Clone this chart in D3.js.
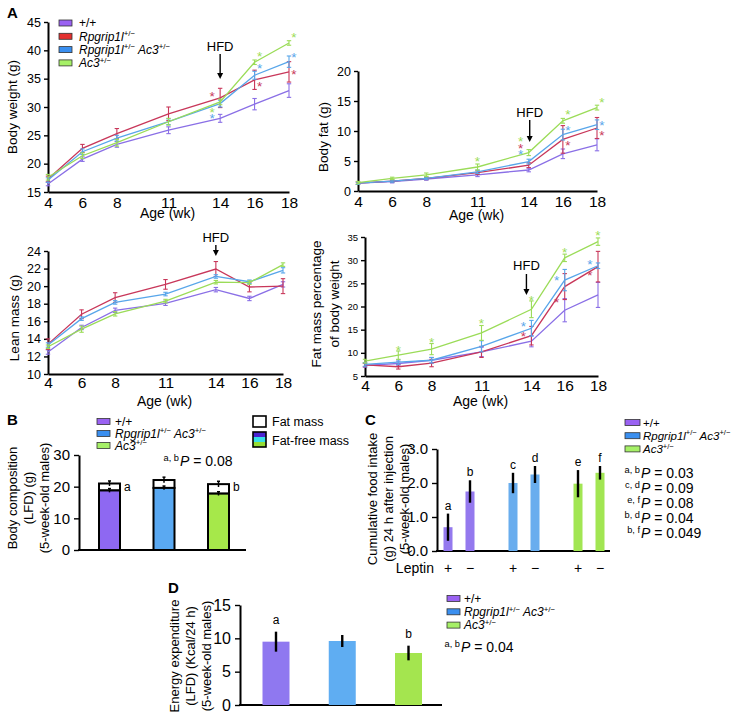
<!DOCTYPE html>
<html>
<head>
<meta charset="utf-8">
<script src="https://cdn.jsdelivr.net/npm/d3@7"></script>
<style>
    body { margin: 0; background: #fff; }
    svg { display: block; font-family: "Liberation Sans", Arial, Helvetica, sans-serif; }
</style>
</head>
<body>
<svg id="fig" width="736" height="720"></svg>
<script>
"use strict";

// ---- values ----
const weeks = [4, 6, 8, 11, 14, 16, 18];

// series rows: +/+, Rpgrip1l+/-, Rpgrip1l+/- Ac3+/-, Ac3+/-
const groupLabels = [
    [{ t: "+/+" }],
    [{ t: "Rpgrip1l", i: 1 }, { t: "+/\u2212", s: 1 }],
    [{ t: "Rpgrip1l", i: 1 }, { t: "+/\u2212", s: 1 }, { t: " Ac3", i: 1 }, { t: "+/\u2212", s: 1 }],
    [{ t: "Ac3", i: 1 }, { t: "+/\u2212", s: 1 }]
];

const bodyWeight = [
    [16.4, 20.8, 23.4, 25.9, 28.0, 30.5, 32.9],
    [17.3, 22.7, 25.3, 28.8, 31.6, 34.8, 36.2],
    [17.1, 22.1, 24.5, 27.4, 30.6, 35.6, 38.0],
    [17.6, 21.4, 23.7, 27.4, 30.9, 37.9, 41.3]
];
const bodyWeightErr = [
    [0.3, 0.4, 0.5, 0.6, 0.7, 1.0, 1.2],
    [0.5, 0.7, 0.9, 1.2, 1.7, 1.7, 1.8],
    [0.4, 0.5, 0.5, 0.5, 0.6, 0.7, 1.0],
    [0.5, 0.5, 0.6, 0.6, 0.5, 0.4, 0.4]
];
// [series, week, value, side(-1 left / 0 above / 1 right)]
const bodyWeightStars = [
    [1, 14, 32.3, -1], [3, 14, 29.5, -1], [2, 14, 28.4, -1],
    [3, 16, 39.4, 1], [2, 16, 37.2, 1], [1, 16, 34.1, 1],
    [3, 18, 42.7, 1], [2, 18, 39.2, 1], [1, 18, 36.2, 1]
];

const bodyFat = [
    [1.3, 1.55, 2.0, 2.7, 3.5, 6.2, 7.7],
    [1.3, 1.65, 2.1, 3.05, 4.3, 8.6, 10.5],
    [1.3, 1.65, 2.1, 3.2, 4.9, 9.4, 11.05],
    [1.4, 2.1, 2.7, 4.0, 6.4, 11.7, 13.9]
];
const bodyFatErr = [
    [0.2, 0.2, 0.2, 0.3, 0.3, 0.8, 1.0],
    [0.2, 0.2, 0.2, 0.3, 0.4, 2.3, 1.75],
    [0.2, 0.2, 0.2, 0.3, 0.4, 0.9, 0.8],
    [0.2, 0.2, 0.3, 0.5, 0.5, 0.4, 0.4]
];
const bodyFatStars = [
    [3, 11, 5.3, 0],
    [3, 14, 8.6, -1], [1, 14, 7.5, -1], [2, 14, 6.45, -1],
    [3, 16, 13.1, 1], [2, 16, 10.45, 1], [1, 16, 8.05, 1],
    [3, 18, 15.2, 1], [2, 18, 11.3, 1], [1, 18, 9.7, 1]
];

const leanMass = [
    [12.5, 15.3, 17.25, 18.05, 19.6, 18.6, 20.2],
    [13.4, 16.8, 18.7, 20.2, 21.95, 19.9, 20.0],
    [13.3, 16.3, 18.15, 19.1, 21.1, 20.5, 21.8],
    [13.1, 15.1, 16.85, 18.3, 20.45, 20.4, 22.45]
];
const leanMassErr = [
    [0.25, 0.25, 0.25, 0.25, 0.25, 0.25, 0.3],
    [0.6, 0.5, 0.55, 0.55, 0.85, 0.55, 0.85],
    [0.25, 0.2, 0.2, 0.2, 0.2, 0.2, 0.3],
    [0.2, 0.35, 0.25, 0.2, 0.2, 0.2, 0.2]
];

const fatPercent = [
    [7.3, 7.7, 8.4, 10.2, 12.5, 19.2, 22.5],
    [7.4, 7.0, 7.8, 10.2, 13.7, 24.3, 28.6],
    [7.5, 8.0, 8.4, 11.4, 15.3, 25.7, 28.8],
    [8.2, 9.5, 10.8, 14.3, 19.4, 30.5, 34.0]
];
const fatPercentErr = [
    [0.4, 0.5, 0.6, 1.0, 1.2, 2.5, 2.7],
    [0.4, 0.5, 0.8, 1.2, 2.0, 2.8, 3.3],
    [0.4, 0.5, 0.6, 1.2, 1.7, 2.3, 0.6],
    [0.4, 0.9, 1.2, 1.6, 1.8, 0.8, 0.8]
];
const fatPercentStars = [
    [3, 6, 11.15, 0], [3, 8, 12.7, 0], [3, 11, 16.8, 0],
    [3, 14, 21.75, 0], [2, 14, 16.2, -1], [1, 14, 14.0, -1],
    [3, 16, 32.2, 0], [2, 16, 26.1, -1], [1, 16, 21.5, -1],
    [3, 18, 35.8, 0], [2, 18, 29.5, -1], [1, 18, 27.2, -1]
];

// panel B: body composition
const compGroups = [0, 2, 3];
const compTotal = [21.0, 22.1, 20.8];
const compTotalErr = [0.8, 0.9, 0.9];
const compFatFree = [18.8, 19.6, 17.8];
const compFatFreeErr = [0.6, 0.6, 0.6];
const compLetters = ["a", "", "b"];

// panel C: food intake after leptin
const leptinTreat = ["+", "\u2212"];
const foodIntake = [[0.7, 1.75], [2.0, 2.25], [1.98, 2.3]];
const foodIntakeErr = [[0.4, 0.33], [0.3, 0.25], [0.4, 0.2]];
const foodLetters = [["a", "b"], ["c", "d"], ["e", "f"]];
const foodPValues = [["a, b", "0.03"], ["c, d", "0.09"], ["e, f", "0.08"], ["b, d", "0.04"], ["b, f", "0.049"]];

// panel D: energy expenditure
const energy = [9.5, 9.6, 7.8];
const energyErr = [1.5, 0.9, 1.1];
const energyLetters = ["a", "", "b"];

(function () {
    "use strict";

    const svg = d3.select("#fig");
    svg.append("rect").attr("width", 736).attr("height", 720).attr("fill", "#fff");

    const lineColors = ["#8a6fe6", "#c8375a", "#58a6ea", "#9bdc58"];
    const swatchColors = ["#9a62f2", "#e3302f", "#3a8ff0", "#a6f067"];
    const barColorsB = ["#8e68f2", "#5aa9f2", "#a6e84a"];
    const barColorsC = ["#9479ee", "#69adee", "#a2e653"];
    const barColorsD = ["#8f78f0", "#5fadf2", "#a4e54f"];

    function addRich(textSel, parts, size) {
        let cur = 0;
        parts.forEach(function (p) {
            const ts = textSel.append("tspan").text(p.t);
            if (p.i) ts.attr("font-style", "italic");
            const target = p.s ? -size * 0.38 : 0;
            if (p.s) ts.attr("font-size", size * 0.66);
            if (target !== cur) ts.attr("dy", target - cur);
            cur = target;
        });
    }

    function legend(x0, y0, step, idx, size, sw, sh, gap) {
        idx.forEach(function (gi, k) {
            const cy = y0 + k * step;
            svg.append("rect")
                .attr("x", x0).attr("y", cy - sh / 2)
                .attr("width", sw).attr("height", sh)
                .attr("fill", swatchColors[gi])
                .attr("stroke", "#333").attr("stroke-width", 0.8);
            const t = svg.append("text")
                .attr("x", x0 + sw + gap).attr("y", cy + size * 0.36)
                .attr("font-size", size);
            addRich(t, groupLabels[gi], size);
        });
    }

    function yLabel(lines, xs, cy, size) {
        lines.forEach(function (line, k) {
            svg.append("text")
                .attr("transform", "translate(" + xs[k] + "," + cy + ") rotate(-90)")
                .attr("text-anchor", "middle")
                .attr("font-size", size)
                .text(line);
        });
    }

    function pValue(xP, yBase, sup, val, size) {
        svg.append("text").attr("x", xP - 1).attr("y", yBase - size * 0.38)
            .attr("text-anchor", "end").attr("font-size", size * 0.66).text(sup);
        const t = svg.append("text").attr("x", xP).attr("y", yBase).attr("font-size", size);
        t.append("tspan").attr("font-style", "italic").text("P");
        t.append("tspan").text(" = " + val);
    }

    function styleAxis(ax, fontSize) {
        ax.select(".domain").attr("stroke", "#000").attr("stroke-width", 2);
        ax.selectAll(".tick line").attr("stroke", "#000").attr("stroke-width", 1.4);
        ax.selectAll(".tick text").attr("fill", "#000").attr("font-size", fontSize)
            .attr("font-family", "Liberation Sans, Arial, sans-serif");
    }

    function linePanel(cfg) {
        const g = svg.append("g");
        const x = d3.scaleLinear().domain([4, 18]).range(cfg.xRange);
        const y = d3.scaleLinear().domain(cfg.yDomain).range(cfg.yRange);

        const ya = g.append("g")
            .attr("transform", "translate(" + cfg.xRange[0] + ",0)")
            .call(d3.axisLeft(y).tickValues(cfg.yTicks).tickSize(4).tickSizeOuter(0).tickPadding(3));
        styleAxis(ya, cfg.yTickSize);

        const xa = g.append("g")
            .attr("transform", "translate(0," + cfg.yRange[0] + ")")
            .call(d3.axisBottom(x).tickValues(weeks).tickSize(0).tickPadding(cfg.xPad));
        styleAxis(xa, 15.5);

        g.append("text")
            .attr("x", (cfg.xRange[0] + cfg.xRange[1]) / 2 - 1)
            .attr("y", cfg.ageY)
            .attr("text-anchor", "middle")
            .attr("font-size", 14)
            .text("Age (wk)");

        const line = d3.line()
            .x(function (d, i) { return x(weeks[i]); })
            .y(function (d) { return y(d); });

        cfg.data.forEach(function (series, si) {
            const col = lineColors[si];
            g.append("path")
                .attr("d", line(series))
                .attr("fill", "none")
                .attr("stroke", col)
                .attr("stroke-width", 1.3);

            series.forEach(function (v, i) {
                const e = cfg.err[si][i];
                const cx = x(weeks[i]);
                const y0 = y(v - e), y1 = y(v + e);
                g.append("line").attr("x1", cx).attr("x2", cx).attr("y1", y0).attr("y2", y1)
                    .attr("stroke", col).attr("stroke-width", 1.1);
                [y0, y1].forEach(function (yy) {
                    g.append("line").attr("x1", cx - 2.2).attr("x2", cx + 2.2).attr("y1", yy).attr("y2", yy)
                        .attr("stroke", col).attr("stroke-width", 1.1);
                });
            });
        });

        // significance asterisks
        (cfg.stars || []).forEach(function (s) {
            const dx = s[3] < 0 ? -8 : (s[3] > 0 ? 5 : 0);
            g.append("text")
                .attr("x", x(s[1]) + dx)
                .attr("y", y(s[2]) + 7)
                .attr("text-anchor", "middle")
                .attr("font-size", 13.5)
                .attr("fill", lineColors[s[0]])
                .text("*");
        });

        const hx = x(14) + cfg.hfd[3];
        g.append("text")
            .attr("x", hx).attr("y", cfg.hfd[0])
            .attr("text-anchor", "middle").attr("font-size", 13)
            .text("HFD");
        g.append("line")
            .attr("x1", hx).attr("x2", hx)
            .attr("y1", cfg.hfd[1]).attr("y2", cfg.hfd[2] - 5)
            .attr("stroke", "#000").attr("stroke-width", 1.4);
        g.append("path")
            .attr("d", "M" + (hx - 3) + "," + (cfg.hfd[2] - 6) + "L" + (hx + 3) + "," + (cfg.hfd[2] - 6) + "L" + hx + "," + cfg.hfd[2] + "Z")
            .attr("fill", "#000");

        yLabel(cfg.label, cfg.labelX, cfg.labelY, 13.5);
    }

    // ---- panel A ----
    svg.append("text").attr("x", 7).attr("y", 18).attr("font-size", 15).attr("font-weight", "bold").text("A");
    legend(59, 23, 13.3, [0, 1, 2, 3], 12, 13, 6, 7);

    linePanel({
        data: bodyWeight, err: bodyWeightErr, stars: bodyWeightStars,
        xRange: [48, 289], yDomain: [15, 45], yRange: [192, 22],
        yTicks: d3.range(15, 46, 5), yTickSize: 12.5, xPad: 5, ageY: 218,
        hfd: [51, 54, 79, 0],
        label: ["Body weight (g)"], labelX: [17], labelY: 107
    });

    linePanel({
        data: bodyFat, err: bodyFatErr, stars: bodyFatStars,
        xRange: [358, 597], yDomain: [0, 20], yRange: [191, 71],
        yTicks: d3.range(0, 21, 5), yTickSize: 12.5, xPad: 5, ageY: 220,
        hfd: [117, 120, 142, 1],
        label: ["Body fat (g)"], labelX: [328], labelY: 137
    });

    linePanel({
        data: leanMass, err: leanMassErr,
        xRange: [48, 283], yDomain: [10, 24], yRange: [374, 251],
        yTicks: d3.range(10, 25, 2), yTickSize: 12.5, xPad: 3, ageY: 406,
        hfd: [242, 245, 256, 0],
        label: ["Lean mass (g)"], labelX: [19], labelY: 318
    });

    linePanel({
        data: fatPercent, err: fatPercentErr, stars: fatPercentStars,
        xRange: [365, 598], yDomain: [5, 35], yRange: [376, 237],
        yTicks: d3.range(5, 36, 5), yTickSize: 9.5, xPad: 4, ageY: 406,
        hfd: [270, 274, 295, -5],
        label: ["Fat mass percentage", "of body weight"], labelX: [321, 339], labelY: 304
    });

    // ---- panel B ----
    svg.append("text").attr("x", 7).attr("y", 425).attr("font-size", 15).attr("font-weight", "bold").text("B");
    legend(97, 421.5, 12, compGroups, 12, 13, 6, 5);

    svg.append("rect").attr("x", 253).attr("y", 416).attr("width", 13).attr("height", 11)
        .attr("fill", "#fff").attr("stroke", "#000").attr("stroke-width", 1.6);
    svg.append("text").attr("x", 272).attr("y", 426).attr("font-size", 12.5).text("Fat mass");
    ["#4a24d0", "#36dfe8", "#96dd34"].forEach(function (c, k) {
        svg.append("rect").attr("x", 253).attr("y", 432 + k * 5).attr("width", 13).attr("height", 5).attr("fill", c);
    });
    svg.append("rect").attr("x", 253).attr("y", 432).attr("width", 13).attr("height", 15)
        .attr("fill", "none").attr("stroke", "#000").attr("stroke-width", 1.6);
    svg.append("text").attr("x", 272).attr("y", 445).attr("font-size", 12.5).text("Fat-free mass");

    (function () {
        const g = svg.append("g");
        const x = d3.scalePoint().domain(d3.range(compGroups.length)).range([109.5, 218.5]);
        const y = d3.scaleLinear().domain([0, 30]).range([550, 455]);
        const bw = 21;

        const ya = g.append("g").attr("transform", "translate(79,0)")
            .call(d3.axisLeft(y).tickValues([0, 10, 20, 30]).tickSize(5).tickSizeOuter(0).tickPadding(4));
        styleAxis(ya, 15);
        g.append("line").attr("x1", 78).attr("x2", 246).attr("y1", y(0)).attr("y2", y(0))
            .attr("stroke", "#000").attr("stroke-width", 2);

        compGroups.forEach(function (gi, k) {
            const cx = x(k);
            g.append("rect").attr("x", cx - bw / 2).attr("y", y(compTotal[k]))
                .attr("width", bw).attr("height", y(compFatFree[k]) - y(compTotal[k]))
                .attr("fill", "#fff").attr("stroke", "#000").attr("stroke-width", 2);
            g.append("rect").attr("x", cx - bw / 2).attr("y", y(compFatFree[k]))
                .attr("width", bw).attr("height", y(0) - y(compFatFree[k]))
                .attr("fill", barColorsB[k]).attr("stroke", "#000").attr("stroke-width", 2);
            [[compTotal[k], compTotalErr[k]], [compFatFree[k], compFatFreeErr[k]]].forEach(function (p) {
                const y0 = y(p[0] - p[1]), y1 = y(p[0] + p[1]);
                g.append("line").attr("x1", cx).attr("x2", cx).attr("y1", y0).attr("y2", y1)
                    .attr("stroke", "#000").attr("stroke-width", 1.5);
                g.append("line").attr("x1", cx - 1.5).attr("x2", cx + 1.5).attr("y1", y1).attr("y2", y1)
                    .attr("stroke", "#000").attr("stroke-width", 1.5);
            });
            if (compLetters[k]) {
                g.append("text").attr("x", cx + bw / 2 + 4).attr("y", y(compTotal[k]) + 7)
                    .attr("font-size", 12).text(compLetters[k]);
            }
        });
        pValue(180, 466, "a, b", "0.08", 14);

        yLabel(["Body composition", "(LFD) (g)", "(5-week-old males)"], [17, 33, 49], 498, 13);
    }());

    // ---- panel C ----
    svg.append("text").attr("x", 365).attr("y", 425).attr("font-size", 15).attr("font-weight", "bold").text("C");
    legend(625, 422.5, 13.2, compGroups, 11.5, 15, 6, 3);
    foodPValues.forEach(function (p, k) {
        pValue(641, 478 + k * 15, p[0], p[1], 14);
    });

    (function () {
        const g = svg.append("g");
        const x = d3.scalePoint().domain(d3.range(foodIntake.length)).range([459, 589]);
        const sub = d3.scalePoint().domain(leptinTreat).range([-11, 11]);
        const y = d3.scaleLinear().domain([0, 3]).range([551, 449]);
        const bw = 9;

        const ya = g.append("g").attr("transform", "translate(437,0)")
            .call(d3.axisLeft(y).tickValues([0, 1, 2, 3]).tickSize(5).tickSizeOuter(0).tickPadding(4));
        styleAxis(ya, 15);
        g.append("line").attr("x1", 436).attr("x2", 610).attr("y1", y(0)).attr("y2", y(0))
            .attr("stroke", "#000").attr("stroke-width", 2);

        foodIntake.forEach(function (pair, k) {
            pair.forEach(function (v, j) {
                const cx = x(k) + sub(leptinTreat[j]);
                const e = foodIntakeErr[k][j];
                g.append("rect").attr("x", cx - bw / 2).attr("y", y(v))
                    .attr("width", bw).attr("height", y(0) - y(v))
                    .attr("fill", barColorsC[k]);
                g.append("line").attr("x1", cx).attr("x2", cx).attr("y1", y(v - e)).attr("y2", y(v + e))
                    .attr("stroke", "#000").attr("stroke-width", 2.4);
                g.append("text").attr("x", cx).attr("y", y(v + e) - 4)
                    .attr("text-anchor", "middle").attr("font-size", 12).text(foodLetters[k][j]);
                g.append("text").attr("x", cx).attr("y", 573)
                    .attr("text-anchor", "middle").attr("font-size", 14).text(leptinTreat[j]);
            });
        });
        g.append("text").attr("x", 434).attr("y", 573).attr("text-anchor", "end")
            .attr("font-size", 14).text("Leptin");

        yLabel(["Cumulative food intake", "(g) 24 h after injection", "(5-week-old males)"], [377, 393, 409], 499, 13);
    }());

    // ---- panel D ----
    svg.append("text").attr("x", 168).attr("y", 593).attr("font-size", 15).attr("font-weight", "bold").text("D");
    legend(447, 598.5, 13.3, compGroups, 12, 13, 6, 4);
    pValue(461, 652, "a, b", "0.04", 14);

    (function () {
        const g = svg.append("g");
        const x = d3.scalePoint().domain(d3.range(energy.length)).range([276, 408.5]);
        const y = d3.scaleLinear().domain([0, 15]).range([705, 605]);
        const bw = 27;

        const ya = g.append("g").attr("transform", "translate(240,0)")
            .call(d3.axisLeft(y).tickValues([0, 5, 10, 15]).tickSize(5).tickSizeOuter(0).tickPadding(4));
        styleAxis(ya, 16);
        g.append("line").attr("x1", 239).attr("x2", 442).attr("y1", y(0)).attr("y2", y(0))
            .attr("stroke", "#000").attr("stroke-width", 2);

        energy.forEach(function (v, k) {
            const cx = x(k);
            const e = energyErr[k];
            g.append("rect").attr("x", cx - bw / 2).attr("y", y(v))
                .attr("width", bw).attr("height", y(0) - y(v))
                .attr("fill", barColorsD[k]);
            g.append("line").attr("x1", cx).attr("x2", cx).attr("y1", y(v - e)).attr("y2", y(v + e))
                .attr("stroke", "#000").attr("stroke-width", 2.4);
            if (energyLetters[k]) {
                g.append("text").attr("x", cx).attr("y", y(v + e) - 8)
                    .attr("text-anchor", "middle").attr("font-size", 12).text(energyLetters[k]);
            }
        });

        yLabel(["Energy expenditure", "(LFD) (Kcal/24 h)", "(5-week-old males)"], [179, 195, 211], 656, 13);
    }());
}());
</script>
</body>
</html>
